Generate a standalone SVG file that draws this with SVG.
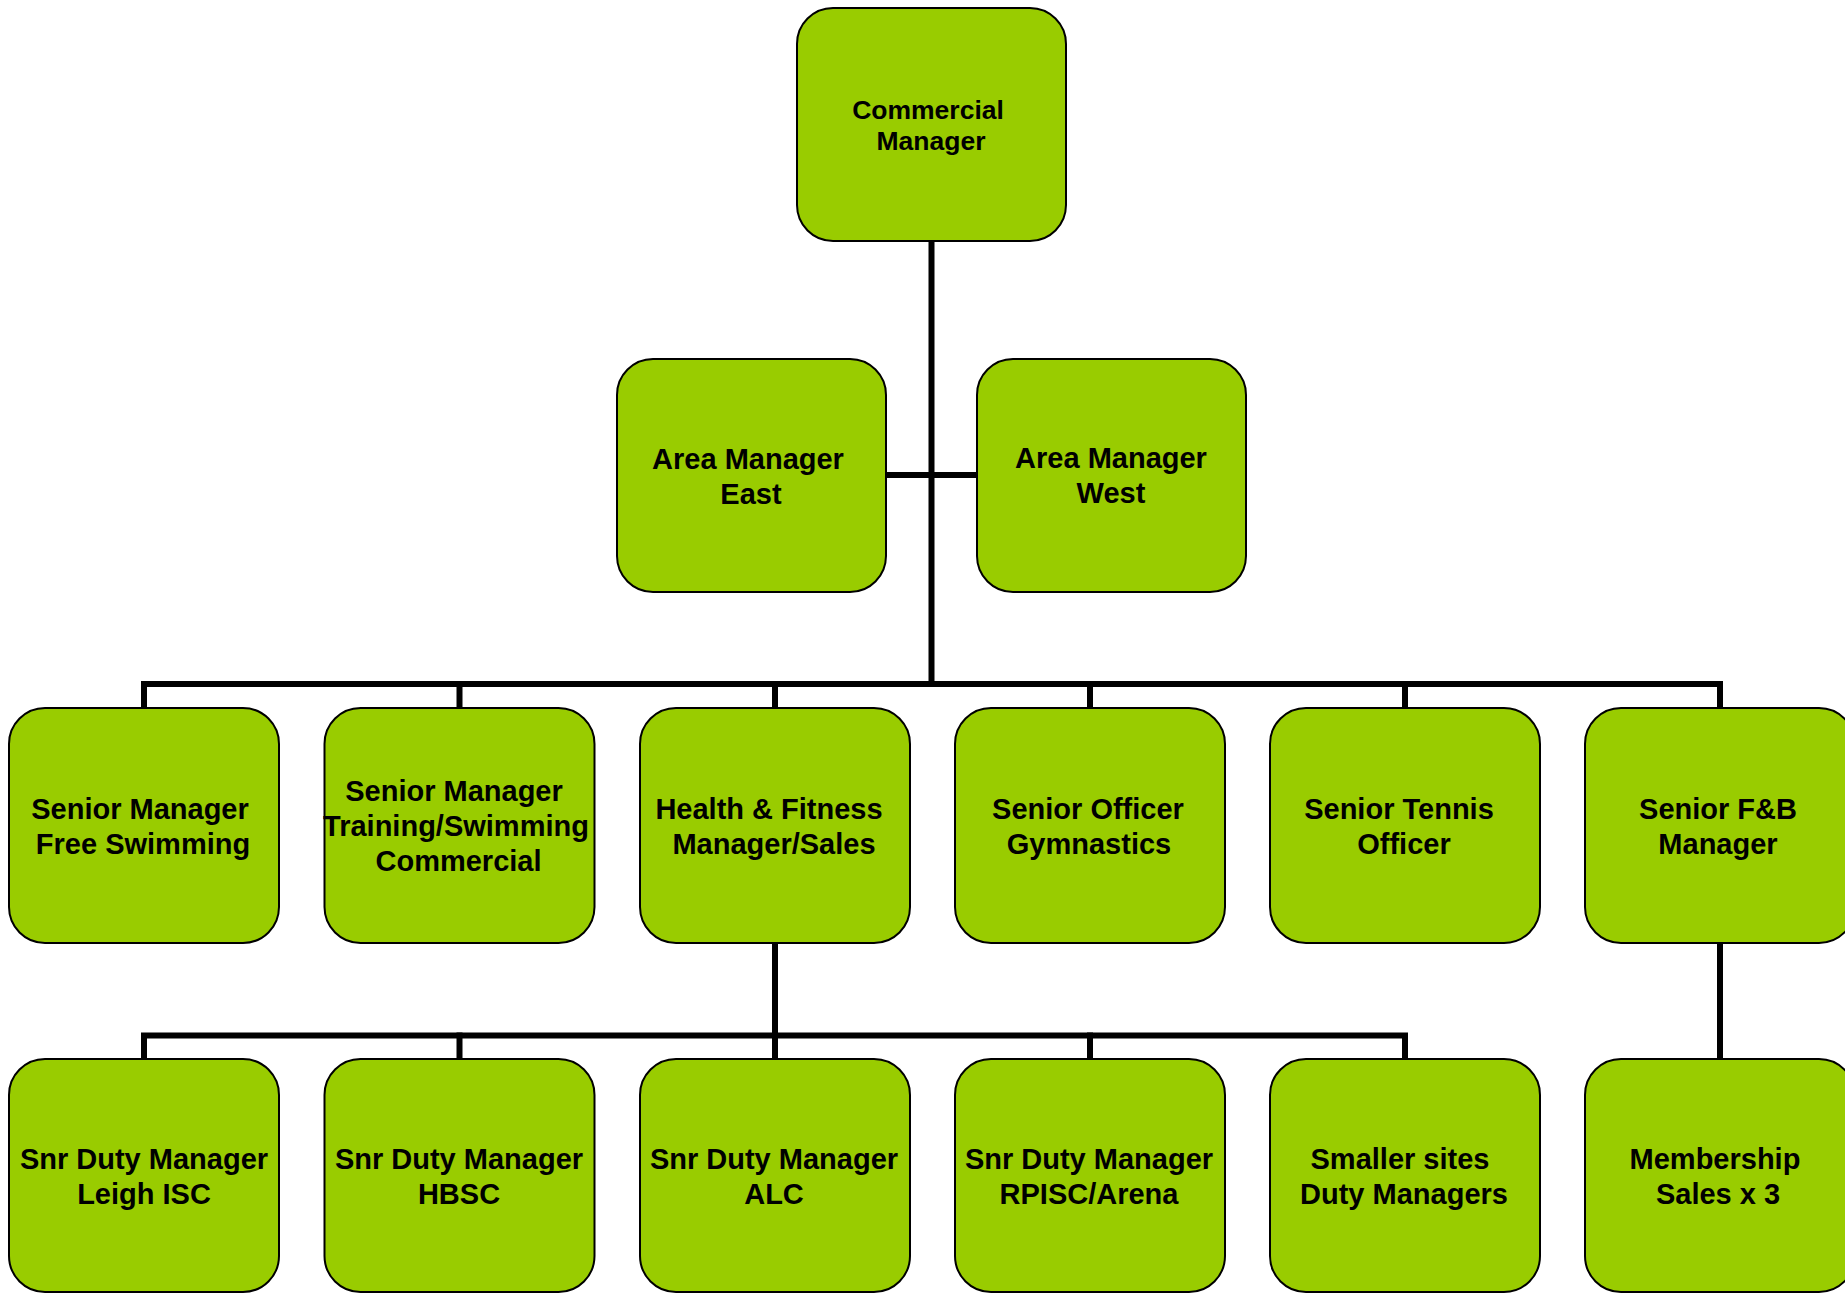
<svg xmlns="http://www.w3.org/2000/svg" width="1845" height="1298" viewBox="0 0 1845 1298">
<style>
.box{fill:#99CC00;stroke:#000;stroke-width:2}
.t{font-family:"Liberation Sans",Arial,sans-serif;font-weight:bold;font-size:29px;fill:#000;text-anchor:middle}
.ts{font-size:26.5px}
.c{stroke:#000;stroke-width:6;fill:none;stroke-linecap:square}
</style>
<rect width="1845" height="1298" fill="#fff"/>
<g id="connectors">
<path class="c" d="M931.5 241V684"/>
<path class="c" d="M886 475H977"/>
<path class="c" d="M144 708V684H1720V708"/>
<path class="c" d="M459.5 684V708M775 684V708M1090 684V708M1405 684V708"/>
<path class="c" d="M775 943V1035.5"/>
<path class="c" d="M144 1059V1035.5H1405V1059"/>
<path class="c" d="M459.5 1035.5V1059M775 1035.5V1059M1090 1035.5V1059"/>
<path class="c" d="M1720 943V1059"/>
</g>
<g id="commercial-manager">
<rect class="box" x="797" y="8" width="269" height="233" rx="36"/>
<text class="t ts" x="928" y="119">Commercial</text>
<text class="t ts" x="931" y="150">Manager</text>
</g>
<g id="area-east">
<rect class="box" x="617" y="359" width="269" height="233" rx="36"/>
<text class="t" x="748" y="468.5">Area Manager</text>
<text class="t" x="751" y="503.5">East</text>
</g>
<g id="area-west">
<rect class="box" x="977" y="359" width="269" height="233" rx="36"/>
<text class="t" x="1111" y="468">Area Manager</text>
<text class="t" x="1111" y="503">West</text>
</g>
<g id="sm-free-swimming">
<rect class="box" x="9" y="708" width="270" height="235" rx="36"/>
<text class="t" x="140" y="818.5">Senior Manager</text>
<text class="t" x="143" y="853.5">Free Swimming</text>
</g>
<g id="sm-training">
<rect class="box" x="324.5" y="708" width="270" height="235" rx="36"/>
<text class="t" x="454" y="801">Senior Manager</text>
<text class="t" x="456" y="836">Training/Swimming</text>
<text class="t" x="458.5" y="871">Commercial</text>
</g>
<g id="health-fitness">
<rect class="box" x="640" y="708" width="270" height="235" rx="36"/>
<text class="t" x="769" y="818.5">Health &amp; Fitness</text>
<text class="t" x="774" y="853.5">Manager/Sales</text>
</g>
<g id="senior-officer-gymnastics">
<rect class="box" x="955" y="708" width="270" height="235" rx="36"/>
<text class="t" x="1088" y="818.5">Senior Officer</text>
<text class="t" x="1089" y="853.5">Gymnastics</text>
</g>
<g id="senior-tennis-officer">
<rect class="box" x="1270" y="708" width="270" height="235" rx="36"/>
<text class="t" x="1399" y="818.5">Senior Tennis</text>
<text class="t" x="1404" y="853.5">Officer</text>
</g>
<g id="senior-fb-manager">
<rect class="box" x="1585" y="708" width="270" height="235" rx="36"/>
<text class="t" x="1718" y="818.5">Senior F&amp;B</text>
<text class="t" x="1718" y="853.5">Manager</text>
</g>
<g id="sdm-leigh">
<rect class="box" x="9" y="1059" width="270" height="233" rx="36"/>
<text class="t" x="144" y="1169">Snr Duty Manager</text>
<text class="t" x="144" y="1204">Leigh ISC</text>
</g>
<g id="sdm-hbsc">
<rect class="box" x="324.5" y="1059" width="270" height="233" rx="36"/>
<text class="t" x="459" y="1169">Snr Duty Manager</text>
<text class="t" x="459" y="1204">HBSC</text>
</g>
<g id="sdm-alc">
<rect class="box" x="640" y="1059" width="270" height="233" rx="36"/>
<text class="t" x="774" y="1169">Snr Duty Manager</text>
<text class="t" x="774" y="1204">ALC</text>
</g>
<g id="sdm-rpisc">
<rect class="box" x="955" y="1059" width="270" height="233" rx="36"/>
<text class="t" x="1089" y="1169">Snr Duty Manager</text>
<text class="t" x="1089" y="1204">RPISC/Arena</text>
</g>
<g id="smaller-sites">
<rect class="box" x="1270" y="1059" width="270" height="233" rx="36"/>
<text class="t" x="1400" y="1169">Smaller sites</text>
<text class="t" x="1404" y="1204">Duty Managers</text>
</g>
<g id="membership-sales">
<rect class="box" x="1585" y="1059" width="270" height="233" rx="36"/>
<text class="t" x="1715" y="1169">Membership</text>
<text class="t" x="1718" y="1204">Sales x 3</text>
</g>
</svg>
